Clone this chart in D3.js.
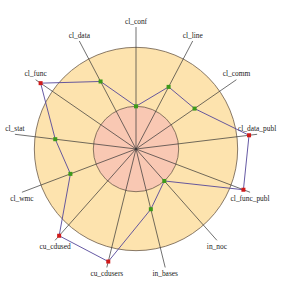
<!DOCTYPE html>
<html>
<head>
<meta charset="utf-8">
<script src="https://cdn.jsdelivr.net/npm/d3@7"></script>
<style>
  body { margin: 0; background: #fff; }
  text { font-family: "Liberation Serif", "DejaVu Serif", serif; font-size: 7.4px; fill: #222; }
</style>
</head>
<body>
<div id="chart"></div>
<script>
// metric names, clockwise from the top
const metrics = ["cl_conf", "cl_line", "cl_comm", "cl_data_publ", "cl_func_publ", "in_noc",
  "in_bases", "cu_cdusers", "cu_cdused", "cl_wmc", "cl_stat", "cl_func", "cl_data"]
// normalised values (1 = upper limit)
const values = [0.42, 0.69, 0.70, 1.12, 1.13, 0.42, 0.61, 1.14, 1.14, 0.69, 0.80, 1.14, 0.75]
// lower and upper limit rings
const limits = [0.42, 1.0]
const axisMax = [1.2]

let width = 282, height = 296
let cx = 136, cy = 149
let r = d3.scaleLinear().domain([0, axisMax[0]]).range([0, 122])
let angle = d3.scaleLinear().domain([0, metrics.length]).range([0, 2 * Math.PI])

let svg = d3.select("#chart").append("svg")
  .attr("width", width).attr("height", height)
let g = svg.append("g").attr("transform", "translate(" + cx + "," + cy + ")")

let pt = (i, v) => [r(v) * Math.sin(angle(i)), -r(v) * Math.cos(angle(i))]

// rings
g.selectAll("circle.ring").data(limits.slice().reverse()).join("circle")
  .classed("ring", true)
  .attr("r", d => r(d))
  .attr("fill", (d, i) => i == 0 ? "#fde3ae" : "#f9c8b3")
  .attr("stroke", "#6b5a4a")
  .attr("stroke-width", 0.8)

// axes
g.selectAll("line.axis").data(metrics).join("line")
  .classed("axis", true)
  .attr("x1", 0).attr("y1", 0)
  .attr("x2", (d, i) => pt(i, axisMax[0])[0])
  .attr("y2", (d, i) => pt(i, axisMax[0])[1])
  .attr("stroke", "#333")
  .attr("stroke-width", 0.7)

// labels
g.selectAll("text.label").data(metrics).join("text")
  .classed("label", true)
  .attr("text-anchor", "middle")
  .attr("dominant-baseline", "middle")
  .attr("x", (d, i) => pt(i, axisMax[0])[0])
  .attr("y", (d, i) => pt(i, axisMax[0])[1] + (Math.cos(angle(i)) >= 0 ? -5 : 7))
  .text(d => d)

// value polygon
g.append("path")
  .datum(values)
  .attr("d", d3.line().x((d, i) => pt(i, d)[0]).y((d, i) => pt(i, d)[1]).curve(d3.curveLinearClosed))
  .attr("fill", "none")
  .attr("stroke", "#55479a")
  .attr("stroke-width", 0.9)

// points, red when outside the upper limit
g.selectAll("rect.pt").data(values).join("rect")
  .classed("pt", true)
  .attr("x", (d, i) => pt(i, d)[0] - 2)
  .attr("y", (d, i) => pt(i, d)[1] - 2)
  .attr("width", 4).attr("height", 4)
  .attr("fill", d => d > limits[1] ? "#d01a1a" : "#3d9a1a")
</script>
</body>
</html>
